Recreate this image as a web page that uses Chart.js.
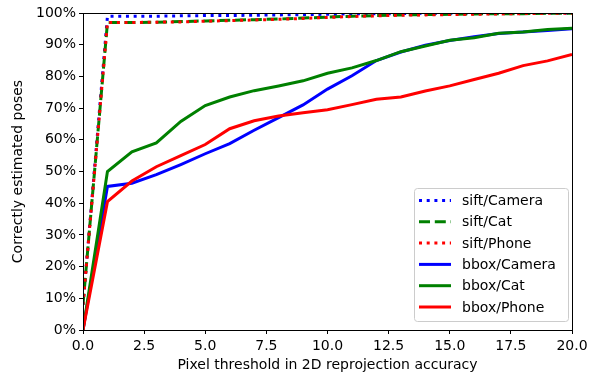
<!DOCTYPE html>
<html>
<head>
<meta charset="utf-8">
<script src="https://cdn.jsdelivr.net/npm/chart.js@4/dist/chart.umd.min.js"></script>
<style>
  html, body { margin: 0; padding: 0; background: #fff; }
  #wrap { width: 594px; height: 377px; }
</style>
</head>
<body>
<div id="wrap"><canvas id="poseChart" width="594" height="377"></canvas></div>
<script>
// thresholds (pixels)
const thresholds = [0, 1, 2, 3, 4, 5, 6, 7, 8, 9, 10, 11, 12, 13, 14, 15, 16, 17, 18, 19, 20];

// percent of correctly estimated poses
const siftCamera = [8, 99, 99, 99, 99.1, 99.2, 99.2, 99.3, 99.4, 99.5, 99.6, 99.7, 99.8, 99.8, 99.9, 99.9, 100, 100, 100, 100, 100];
const siftCat    = [8, 97, 97, 97.1, 97.3, 97.5, 97.7, 97.9, 98.1, 98.4, 98.7, 99, 99.2, 99.4, 99.5, 99.6, 99.7, 99.8, 99.8, 99.9, 99.9];
const siftPhone  = [8, 97, 97, 97.1, 97.2, 97.4, 97.6, 97.8, 98, 98.3, 98.6, 98.9, 99.1, 99.3, 99.4, 99.5, 99.6, 99.7, 99.8, 99.9, 99.9];
const bboxCamera = [0, 45.3, 46.3, 49, 52.2, 55.6, 58.8, 63, 67, 71, 76, 80.2, 85, 87.7, 89.8, 91.3, 92.5, 93.5, 94, 94.5, 95];
const bboxCat    = [0, 50, 56.2, 59, 65.8, 70.8, 73.5, 75.5, 77, 78.6, 81, 82.7, 85, 87.8, 89.6, 91.4, 92.2, 93.6, 94, 94.8, 95.2];
const bboxPhone  = [0, 40.5, 47, 51.5, 55, 58.5, 63.5, 66, 67.5, 68.5, 69.5, 71.1, 72.8, 73.5, 75.4, 77, 79, 81, 83.4, 84.9, 86.9];

const xTicks = [0, 2.5, 5, 7.5, 10, 12.5, 15, 17.5, 20];

const FONT = "'DejaVu Sans', sans-serif";
const FONT_SIZE = 14;

const makeSeries = (label, values, color, dash, order) => ({
    label,
    data: thresholds.map((t, i) => ({ x: t, y: values[i] })),
    borderColor: color,
    backgroundColor: color,
    borderWidth: 3,
    borderDash: dash,
    borderCapStyle: 'butt',
    pointRadius: 0,
    tension: 0,
    fill: false,
    order
});

const datasets = [
    makeSeries('sift/Camera', siftCamera, '#0000ff', [3, 4.7], 6),
    makeSeries('sift/Cat', siftCat, '#008000', [11, 4.8], 5),
    makeSeries('sift/Phone', siftPhone, '#ff0000', [3, 4.7], 4),
    makeSeries('bbox/Camera', bboxCamera, '#0000ff', [], 3),
    makeSeries('bbox/Cat', bboxCat, '#008000', [], 2),
    makeSeries('bbox/Phone', bboxPhone, '#ff0000', [], 1)
];

// frame around the plot area plus matplotlib-like legend
const framePlugin = {
    id: 'frame',
    afterDatasetsDraw(chart) {
        const { ctx, chartArea: a } = chart;
        ctx.save();
        ctx.strokeStyle = '#000';
        ctx.lineWidth = 1;
        ctx.strokeRect(a.left + 0.5, a.top + 0.5, a.right - a.left, a.bottom - a.top);

        // legend box
        const rowH = 21.3;
        const boxW = 154, boxH = 133;
        const bx = a.right - 4 - boxW;
        const by = a.bottom - 9 - boxH;
        ctx.fillStyle = 'rgba(255,255,255,0.8)';
        ctx.strokeStyle = '#cccccc';
        ctx.beginPath();
        ctx.roundRect(bx + 0.5, by + 0.5, boxW, boxH, 3);
        ctx.fill();
        ctx.stroke();

        ctx.font = FONT_SIZE + 'px ' + FONT;
        ctx.textBaseline = 'middle';
        chart.data.datasets.forEach((ds, i) => {
            const cy = by + 12.5 + i * rowH;
            ctx.strokeStyle = ds.borderColor;
            ctx.lineWidth = 3;
            ctx.setLineDash(ds.borderDash);
            ctx.beginPath();
            ctx.moveTo(bx + 5, cy);
            ctx.lineTo(bx + 37, cy);
            ctx.stroke();
            ctx.setLineDash([]);
            ctx.fillStyle = '#000';
            ctx.fillText(ds.label, bx + 48, cy + 1);
        });
        ctx.restore();
    }
};

new Chart(document.getElementById('poseChart'), {
    type: 'line',
    data: { datasets },
    plugins: [framePlugin],
    options: {
        responsive: false,
        animation: false,
        devicePixelRatio: 1,
        layout: { padding: { top: 13, right: 22, left: 10, bottom: 3 } },
        plugins: {
            legend: { display: false },
            tooltip: { enabled: false }
        },
        scales: {
            x: {
                type: 'linear',
                min: 0,
                max: 20,
                afterBuildTicks: (scale) => {
                    scale.ticks = xTicks.map(v => ({ value: v }));
                },
                afterFit: (scale) => { scale.height = 44; },
                ticks: {
                    color: '#000',
                    font: { family: FONT, size: FONT_SIZE },
                    padding: 4,
                    maxRotation: 0,
                    callback: (v) => Number(v).toFixed(1)
                },
                grid: {
                    drawOnChartArea: false,
                    tickLength: 4,
                    color: '#000'
                },
                border: { color: '#000' },
                title: {
                    display: true,
                    text: 'Pixel threshold in 2D reprojection accuracy',
                    color: '#000',
                    font: { family: FONT, size: FONT_SIZE },
                    padding: { top: 2, bottom: 0 }
                }
            },
            y: {
                min: 0,
                max: 100,
                afterFit: (scale) => { scale.width = 73; },
                ticks: {
                    stepSize: 10,
                    color: '#000',
                    font: { family: FONT, size: FONT_SIZE },
                    padding: 3,
                    callback: (v) => v + '%'
                },
                grid: {
                    drawOnChartArea: false,
                    tickLength: 4,
                    color: '#000'
                },
                border: { color: '#000' },
                title: {
                    display: true,
                    text: 'Correctly estimated poses',
                    color: '#000',
                    font: { family: FONT, size: FONT_SIZE },
                    padding: { top: 0, bottom: 0 }
                }
            }
        }
    }
});
</script>
</body>
</html>
